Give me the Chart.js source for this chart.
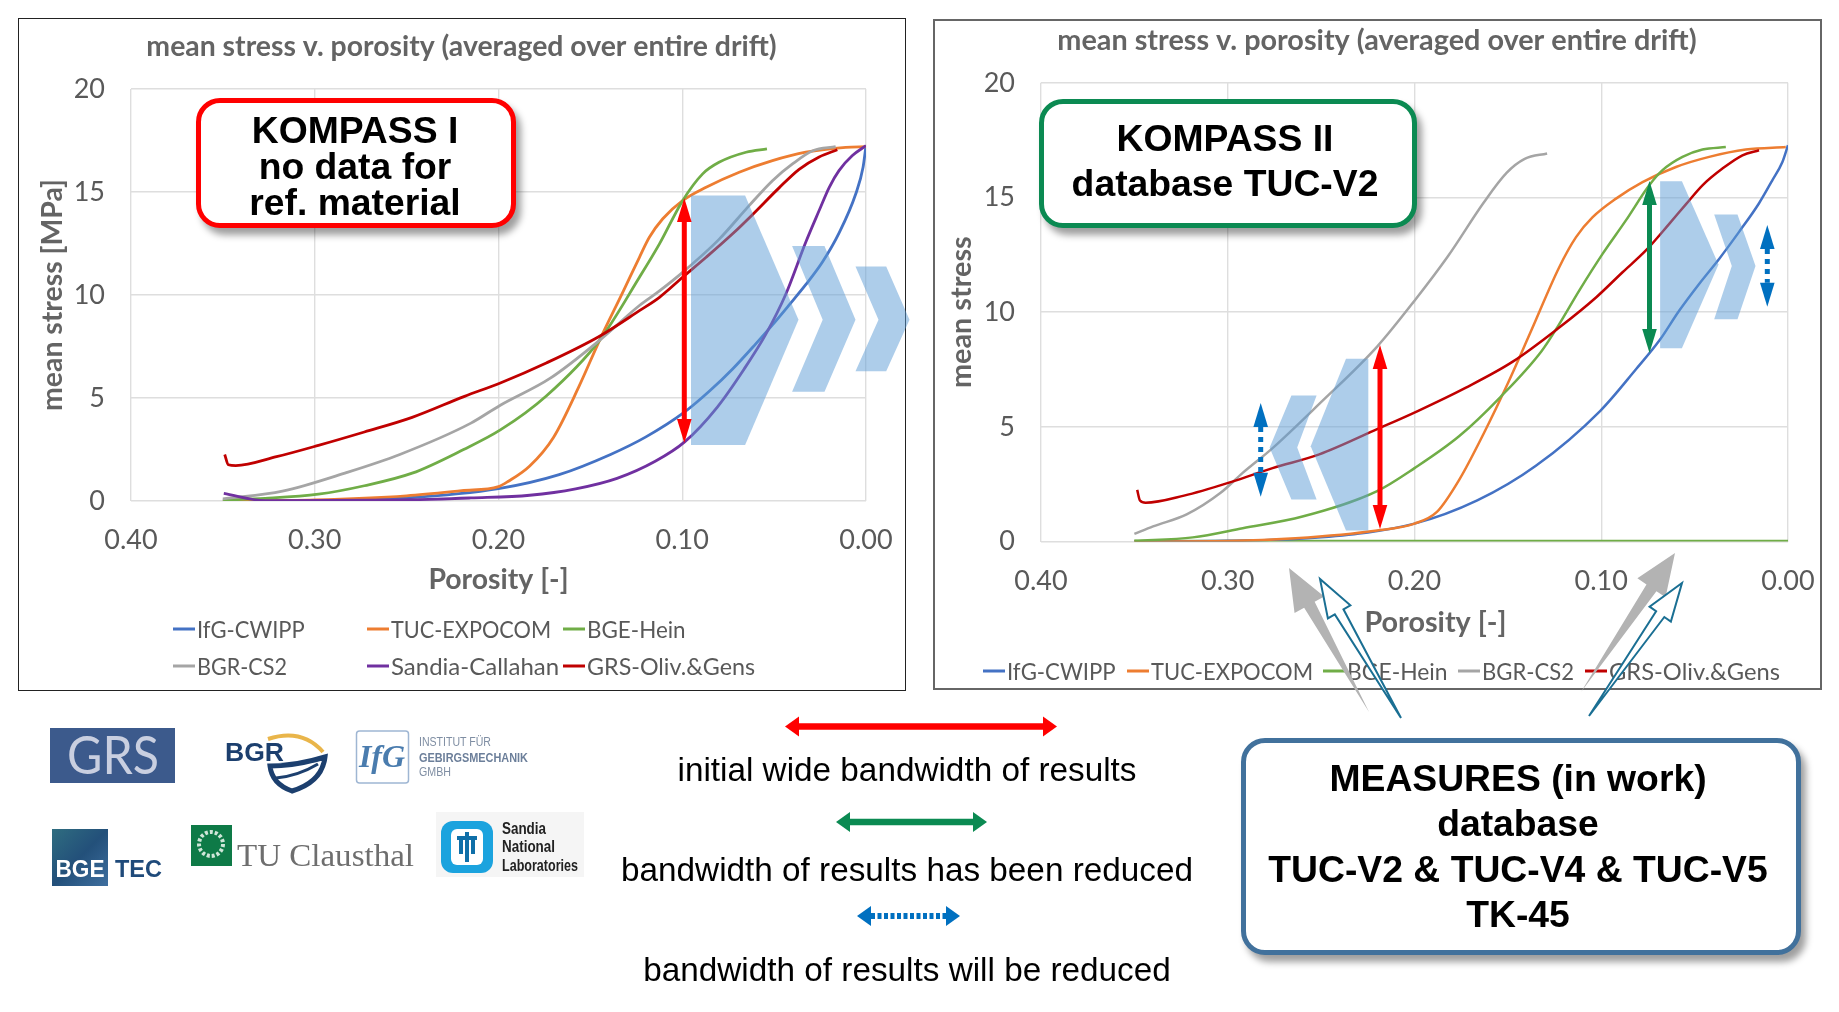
<!DOCTYPE html>
<html><head><meta charset="utf-8"><title>KOMPASS mean stress v. porosity</title>
<script src="https://cdn.jsdelivr.net/npm/chart.js@4"></script>
<style>
html,body{margin:0;padding:0;background:#fff;width:1839px;height:1012px;overflow:hidden}
.frame{position:absolute;box-sizing:border-box;background:#fff}
canvas{position:absolute}
svg{position:absolute;left:0;top:0}
.t{position:absolute;transform:translate(-50%,-50%);white-space:nowrap;font-family:"Liberation Sans",Arial,sans-serif;color:#000;text-align:center}
.b{font-weight:700}
.box{position:absolute;box-sizing:border-box;background:#fff;box-shadow:5px 7px 7px rgba(0,0,0,.38)}
.lg{position:absolute;font:24px Lato,sans-serif;color:#595959;white-space:nowrap;transform-origin:0 50%}
.key{position:absolute;height:3px;transform:translateY(-50%)}
</style></head><body>
<div class="frame" style="left:18px;top:18px;width:888px;height:673px;border:1.6px solid #222"></div>
<div class="frame" style="left:933px;top:19px;width:889px;height:671px;border:2px solid #666"></div>
<canvas id="c1" width="886" height="672" style="left:19px;top:19px"></canvas>
<canvas id="c2" width="888" height="669" style="left:933px;top:20px"></canvas>
<svg id="under" width="1839" height="1012"></svg>
<div id="legends"></div>
<div class="box" style="left:196px;top:98px;width:320px;height:130px;border:5px solid #f00;border-radius:24px"></div>
<div class="box" style="left:1039px;top:99px;width:378px;height:129px;border:5px solid #0b8a52;border-radius:24px"></div>
<div class="box" style="left:1241px;top:738px;width:560px;height:217px;border:5px solid #41719c;border-radius:24px"></div>
<svg id="over" width="1839" height="1012"></svg>
<div id="texts"></div>
<script>
const chartTitle = "mean stress v. porosity (averaged over entire drift)";
const xAxisLabel = "Porosity [-]";
const yLabelA = "mean stress [MPa]";
const yLabelB = "mean stress";
const xTickValues = [0.40,0.30,0.20,0.10,0.00];
const yTickValues = [0,5,10,15,20];

const namesA = ["IfG-CWIPP","TUC-EXPOCOM","BGE-Hein","BGR-CS2","Sandia-Callahan","GRS-Oliv.&Gens"];
const namesB = ["IfG-CWIPP","TUC-EXPOCOM","BGE-Hein","BGR-CS2","GRS-Oliv.&Gens"];
const colorOf = {"IfG-CWIPP":"#4472C4","TUC-EXPOCOM":"#ED7D31","BGE-Hein":"#70AD47","BGR-CS2":"#A5A5A5","Sandia-Callahan":"#7030A0","GRS-Oliv.&Gens":"#C00000"};

// KOMPASS I : [porosity, mean stress]
const a_ifg=[[.35,0],[.30,.03],[.25,.15],[.2,.6],[.167,1.28],[.139,2.26],[.12,3.1],[.099,4.3],[.085,5.35],[.0726,6.41],[.06,7.63],[.0509,8.55],[.0418,9.52],[.0328,10.5],[.0237,11.6],[.0147,13],[.0056,14.9],[.0016,16.2],[0,17.25]];
const a_tuc=[[.35,0],[.30,.05],[.25,.25],[.22,.5],[.2,.7],[.1946,.96],[.183,1.7],[.17,3.1],[.156,5.6],[.145,7.8],[.132,10.2],[.1233,11.83],[.1179,12.8],[.1106,13.7],[.0998,14.58],[.087,15.23],[.069,15.96],[.0509,16.52],[.0328,16.93],[.011,17.17],[0,17.2]];
const a_bge=[[.35,.05],[.327,.13],[.298,.33],[.273,.74],[.247,1.35],[.219,2.5],[.199,3.45],[.174,5.1],[.145,7.8],[.1233,10.86],[.1124,12.48],[.0998,14.58],[.0889,15.88],[.08,16.44],[.0653,16.93],[.0539,17.09]];
const a_bgr=[[.35,.1],[.3176,.48],[.2824,1.39],[.2537,2.26],[.215,3.78],[.199,4.65],[.172,5.95],[.145,7.8],[.1233,9.49],[.1124,10.2],[.0998,11.1],[.08,12.7],[.0636,14.34],[.0509,15.55],[.04,16.36],[.029,17],[.0165,17.2]];
const a_san=[[.3495,.37],[.327,.02],[.247,.06],[.215,.15],[.183,.28],[.158,.59],[.1355,1.1],[.1147,1.93],[.0987,2.87],[.081,4.55],[.0663,6.41],[.0545,8.1],[.0436,10.05],[.0328,12.56],[.0255,14.1],[.02,15.23],[.0147,16.04],[.0074,16.77],[0,17.25]];
const a_grs=[[.349,2.26],[.347,1.76],[.343,1.72],[.3208,2.15],[.298,2.7],[.273,3.35],[.247,4.06],[.2185,5.08],[.199,5.73],[.174,6.7],[.145,8],[.1233,9.24],[.1124,9.89],[.0998,10.86],[.087,11.83],[.0726,12.97],[.0618,13.9],[.0473,15.2],[.0364,16.1],[.0255,16.7],[.0156,17.05]];

// KOMPASS II : [porosity, mean stress]
const b_ifg=[[.35,0],[.3,.03],[.25,.18],[.2,.78],[.1664,1.79],[.135,3.3],[.1005,5.7],[.0814,7.51],[.069,8.75],[.0583,10.06],[.0476,11.23],[.0369,12.32],[.0262,13.5],[.0155,14.75],[.0084,15.75],[.003,16.55],[0,17.28]];
const b_tuc=[[.35,0],[.3,.02],[.2637,.14],[.22,.48],[.2,.78],[.188,1.29],[.176,2.7],[.163,4.7],[.15,6.9],[.138,9.1],[.1225,11.96],[.1135,13.27],[.1046,14.14],[.0921,14.95],[.0779,15.67],[.06,16.33],[.0422,16.77],[.0226,17.09],[.0012,17.2]];
const b_bge=[[.35,.03],[.3187,.18],[.292,.58],[.26,1.09],[.22,2.2],[.2,3.2],[.176,4.6],[.154,6.3],[.132,8.3],[.1225,9.48],[.1118,10.94],[.0993,12.54],[.0868,14],[.0743,15.53],[.0672,16.19],[.0565,16.77],[.0458,17.09],[.0333,17.2]];
const b_bge_base=[[.35,.02],[.2,.02],[.1,.02],[0,.02]];
const b_bgr=[[.35,.33],[.34,.66],[.322,1.18],[.304,2.11],[.292,2.99],[.2763,4.05],[.251,6],[.22,8.5],[.2,10.5],[.182,12.45],[.163,14.77],[.1507,16.07],[.141,16.68],[.129,16.92]];
const b_grs=[[.3485,2.25],[.347,1.79],[.344,1.69],[.3234,2],[.298,2.6],[.276,3.2],[.251,3.8],[.22,4.9],[.198,5.7],[.1727,6.7],[.1476,7.83],[.1225,9.33],[.1028,10.64],[.0886,11.74],[.0761,12.69],[.0636,13.85],[.0547,14.7],[.0458,15.53],[.0351,16.26],[.0244,16.84],[.0155,17.06]];

const FONT="Lato, sans-serif", GREY="#595959", TITLEGREY="#646464";
function ds(name,pairs,i,w){return {label:name,data:pairs.map(p=>({x:p[0],y:p[1]})),borderColor:colorOf[name],borderWidth:w,pointRadius:0,cubicInterpolationMode:'monotone',fill:false,order:-i};}
function makeChart(id,sets,cfg){
  return new Chart(document.getElementById(id),{type:'line',data:{datasets:sets},options:{
    responsive:false,animation:false,devicePixelRatio:1,
    layout:{padding:{left:cfg.inset,right:cfg.inset+cfg.extraRight,top:0,bottom:cfg.bottom}},
    plugins:{legend:{display:false},tooltip:{enabled:false},
      title:{display:true,text:chartTitle,color:TITLEGREY,font:{family:FONT,size:cfg.titleSize,weight:'bold',lineHeight:1},padding:{top:cfg.titleTop,bottom:cfg.titleBottom}}},
    scales:{
      x:{type:'linear',reverse:true,min:0,max:.4,afterBuildTicks(s){s.ticks=xTickValues.map(v=>({value:v}));},
        afterFit(s){s.height=cfg.xHeight;s.paddingLeft=0;s.paddingRight=0;},
        grid:{color:'#dedede',lineWidth:1.4,drawTicks:false},border:{display:false},
        ticks:{maxRotation:0,autoSkip:false,padding:cfg.xPad,color:GREY,font:{family:FONT,size:27},callback:v=>v.toFixed(2)},
        title:{display:true,text:cfg.xTitle,color:TITLEGREY,font:{family:FONT,size:cfg.titleSize,weight:'bold',lineHeight:1},padding:{bottom:cfg.xTitlePad}}},
      y:{type:'linear',min:0,max:20,afterBuildTicks(s){s.ticks=yTickValues.map(v=>({value:v}));},
        afterFit(s){s.width=cfg.yWidth;},
        grid:{color:'#dedede',lineWidth:1.4,drawTicks:false},border:{display:false},
        ticks:{padding:26,color:GREY,font:{family:FONT,size:27}},
        title:{display:true,text:cfg.yTitle,color:TITLEGREY,font:{family:FONT,size:cfg.titleSize,weight:'bold',lineHeight:1},padding:{top:cfg.yTitleOff}}}
    }}});
}
makeChart('c1',[a_ifg,a_tuc,a_bge,a_bgr,a_san,a_grs].map((d,i)=>ds(namesA[i],d,i,2.8)),
  {inset:38,extraRight:1,bottom:97,titleSize:28.4,titleTop:14,titleBottom:27.6,xHeight:93,xPad:23.5,xTitlePad:0,xTitle:xAxisLabel,yTitle:yLabelA,yWidth:74,yTitleOff:-18});
makeChart('c2',[b_ifg,b_tuc,b_bge,b_bgr,b_grs].map((d,i)=>ds(namesB[i],d,i,2.5)).concat([ds("BGE-Hein",b_bge_base,-1,2.4)]),
  {inset:33,extraRight:0,bottom:49.5,titleSize:28.8,titleTop:6,titleBottom:28,xHeight:98,xPad:24,xTitlePad:2,xTitle:"      "+xAxisLabel,yTitle:yLabelB,yWidth:75,yTitleOff:-19});

// legends: [key left, centre y, name, text width]
const lgA=[[173,629,namesA[0],108],[367,629,namesA[1],160],[563,629,namesA[2],99],[173,666,namesA[3],90],[367,666,namesA[4],168],[563,666,namesA[5],168]];
const lgB=[[983,671,namesB[0],109],[1127,671,namesB[1],162],[1323,671,namesB[2],101],[1458,671,namesB[3],92],[1585,671,namesB[4],171]];
const lgHost=document.getElementById('legends');
lgHost.innerHTML=lgA.concat(lgB).map(([x,y,n])=>
 `<div class="key" style="left:${x}px;top:${y}px;width:22px;background:${colorOf[n]}"></div><div class="lg" style="left:${x+24}px;top:${y-15}px">${n.replace('&','&amp;')}</div>`).join('');
const lgW=lgA.concat(lgB).map(r=>r[3]);
lgHost.querySelectorAll('.lg').forEach((el,i)=>{el.style.transform=`scaleX(${lgW[i]/el.offsetWidth})`;});

// overlays
const poly=(pts,fill,extra='')=>`<polygon points="${pts.map(p=>p.join(',')).join(' ')}" fill="${fill}" ${extra}/>`;
const CH="rgba(91,155,213,.5)";
const chevrons=[
 [[692.5,195.4],[746.6,195.4],[800,319.8],[746.6,445],[692.5,445]],
 [[793.6,246],[826,246],[857,319.8],[826,391.8],[793.6,391.8],[824.2,319.8]],
 [[857,266.5],[887.7,266.5],[911,319.8],[887.7,371.2],[857,371.2],[880,319.8]],
 [[1661.6,181.2],[1683.4,181.2],[1720,264.5],[1683.4,348.2],[1661.6,348.2]],
 [[1715.7,214.4],[1739,214.4],[1757,265.9],[1739,319.2],[1715.7,319.2],[1733.3,265.9]],
 [[1369.8,358.8],[1347.5,358.8],[1312.2,446.2],[1347.5,530.4],[1369.8,530.4]],
 [[1318.1,395.6],[1292.9,395.6],[1271.1,447.6],[1292.9,499.5],[1318.1,499.5],[1298.7,447.6]]];
document.getElementById('under').innerHTML=chevrons.map(c=>poly(c.map(p=>[p[0]-1.5,p[1]]),CH)).join('');

function dbl(x1,y1,x2,y2,col,w,hw,hl,dash){ // double arrow
  const dx=x2-x1,dy=y2-y1,L=Math.hypot(dx,dy),u=dx/L,v=dy/L,nx=-v,ny=u;
  const sx=x1+u*hl,sy=y1+v*hl,ex=x2-u*hl,ey=y2-v*hl;
  return `<line x1="${sx}" y1="${sy}" x2="${ex}" y2="${ey}" stroke="${col}" stroke-width="${w}" ${dash?`stroke-dasharray="${dash}"`:''}/>`+
   poly([[x1,y1],[sx+nx*hw,sy+ny*hw],[sx-nx*hw,sy-ny*hw]],col)+poly([[x2,y2],[ex+nx*hw,ey+ny*hw],[ex-nx*hw,ey-ny*hw]],col);
}
function taper(tx,ty,px,py,sw,hw,hl,fill,extra){ // thin-tail block arrow
  const dx=px-tx,dy=py-ty,L=Math.hypot(dx,dy),u=dx/L,v=dy/L,nx=-v,ny=u;
  const bx=px-u*hl,by=py-v*hl;
  return poly([[tx,ty],[bx+nx*sw,by+ny*sw],[bx+nx*hw,by+ny*hw],[px,py],[bx-nx*hw,by-ny*hw],[bx-nx*sw,by-ny*sw]],fill,extra);
}
const RED="#FF0000",GRN="#0B8A52",BLU="#0070C0",TEAL="#1A6F93",NAVY="#1C3F6E";
const logos=`
<rect x="50" y="728" width="125" height="55" fill="#3C5A8C"/>
<text x="113" y="774" text-anchor="middle" font-family="Lato" font-size="53" fill="#c9cfe0" textLength="92" lengthAdjust="spacingAndGlyphs">GRS</text>
<text x="225" y="761" font-family="Liberation Sans" font-weight="700" font-size="25" fill="${NAVY}" textLength="59" lengthAdjust="spacingAndGlyphs">BGR</text>
<path d="M268 739 Q302 728 323 752" fill="none" stroke="#E9B54A" stroke-width="4"/>
<path d="M270 766 Q296 766 325 757 Q322 782 292 791 Q272 784 270 766Z" fill="none" stroke="${NAVY}" stroke-width="5"/>
<path d="M276 778 Q298 776 318 764" fill="none" stroke="${NAVY}" stroke-width="3"/>
<rect x="356.5" y="731" width="52" height="52" rx="3" fill="#fff" stroke="#9fb6d3" stroke-width="1.5"/>
<text x="382" y="767" text-anchor="middle" font-family="Liberation Serif" font-style="italic" font-weight="700" font-size="32" fill="#4a7cae">IfG</text>
<text x="419" y="746" font-family="Liberation Sans" font-size="12" fill="#7f8ea3" textLength="72" lengthAdjust="spacingAndGlyphs">INSTITUT FÜR</text>
<text x="419" y="762" font-family="Liberation Sans" font-weight="700" font-size="12" fill="#6c7f9a" textLength="109" lengthAdjust="spacingAndGlyphs">GEBIRGSMECHANIK</text>
<text x="419" y="776" font-family="Liberation Sans" font-size="12" fill="#7f8ea3" textLength="32" lengthAdjust="spacingAndGlyphs">GMBH</text>
<defs><linearGradient id="bg" x1="0" y1="0" x2="1" y2="1"><stop offset="0" stop-color="#2f6d80"/><stop offset=".5" stop-color="#23507a"/><stop offset="1" stop-color="#3f6f9f"/></linearGradient></defs>
<rect x="52" y="829" width="56" height="57" fill="url(#bg)"/>
<text x="80" y="877" text-anchor="middle" font-family="Liberation Sans" font-weight="700" font-size="24" fill="#fff" textLength="49" lengthAdjust="spacingAndGlyphs">BGE</text>
<text x="115" y="877" font-family="Liberation Sans" font-weight="700" font-size="24" fill="#1f4a7a" textLength="47" lengthAdjust="spacingAndGlyphs">TEC</text>
<rect x="191" y="825" width="41" height="41" fill="#0E7A47"/>
<circle cx="211" cy="844" r="12" fill="none" stroke="#cfe6d8" stroke-width="4" stroke-dasharray="3 2"/>
<text x="237" y="866" font-family="Liberation Serif" font-size="31" fill="#6e6e6e" textLength="177" lengthAdjust="spacingAndGlyphs">TU Clausthal</text>
<rect x="436" y="812" width="148" height="65" fill="#f5f5f5"/>
<rect x="441" y="821" width="52" height="52" rx="12" fill="#1BA3DE"/>
<rect x="451" y="829" width="32" height="36" rx="6" fill="#fff"/>
<path d="M467 832 v30 M457 838 h20 M461 838 v16 M473 838 v16" stroke="#0F6FA8" stroke-width="4" fill="none"/>
<g font-family="Liberation Sans" font-weight="700" font-size="16.5" fill="#222">
<text x="502" y="834" textLength="44" lengthAdjust="spacingAndGlyphs">Sandia</text>
<text x="502" y="852" textLength="53" lengthAdjust="spacingAndGlyphs">National</text>
<text x="502" y="871" textLength="76" lengthAdjust="spacingAndGlyphs">Laboratories</text></g>`;
document.getElementById('over').innerHTML=
  dbl(684.3,198,684.3,443,RED,5,7.3,24)+dbl(1380,345,1380,529,RED,5,7.3,24)+
  dbl(1649.5,181,1649.5,353,GRN,5,7.3,24)+
  dbl(1260.7,403,1260.7,496.7,BLU,5,7.3,24,"5 5")+dbl(1767.3,225,1767.3,306.7,BLU,5,7.3,24,"5 5")+
  taper(1369,712,1289,568,6,17,42,"#B3B3B3")+taper(1581,692,1675,553,6,17,42,"#B3B3B3")+
  taper(1401,718,1320,579,5,13,38,"#fff",`stroke="${TEAL}" stroke-width="2" stroke-linejoin="miter"`)+
  taper(1589,716,1682,583,5,13,38,"#fff",`stroke="${TEAL}" stroke-width="2" stroke-linejoin="miter"`)+
  dbl(785,726.5,1057,726.5,RED,6.5,10,14)+dbl(836,822,987,822,GRN,6.5,10,14)+dbl(857,916,960,916,BLU,6,10,14,"4 2.5")+
  logos;

const labels=[
 ["KOMPASS I",355,130,37.3,1],["no data for",355,166,37.3,1],["ref. material",355,202,37.3,1],
 ["KOMPASS II",1225,138,37.3,1],["database  TUC-V2",1225,183,37.3,1],
 ["MEASURES (in work)",1518,778,37.3,1],["database",1518,823,37.3,1],["TUC-V2 & TUC-V4 & TUC-V5",1518,869,37.3,1],["TK-45",1518,914,37.3,1],
 ["initial wide bandwidth of results",907,770,33.3,0],["bandwidth of results has been reduced",907,870,33.3,0],["bandwidth of results will be reduced",907,970,33.3,0]];
document.getElementById('texts').innerHTML=labels.map(([s,x,y,f,b])=>`<div class="t ${b?'b':''}" style="left:${x}px;top:${y}px;font-size:${f}px">${s.replace(/&/g,'&amp;')}</div>`).join('');
</script>
</body></html>
